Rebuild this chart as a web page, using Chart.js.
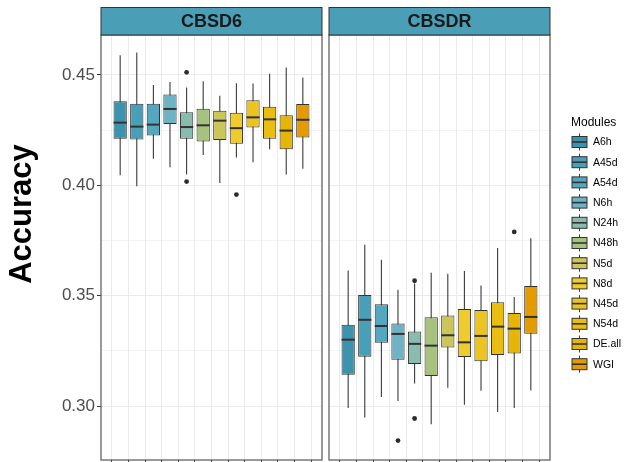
<!DOCTYPE html>
<html>
<head>
<meta charset="utf-8">
<script src="https://cdn.jsdelivr.net/npm/chart.js@4.4.1/dist/chart.umd.min.js"></script>
<style>
  body { margin: 0; background: #fff; }
  #wrap { position: relative; width: 624px; height: 462px; overflow: hidden; }
  #c1 { position: absolute; left: 0; top: 0; }
  #c2 { position: absolute; left: 325px; top: 0; }
</style>
</head>
<body>
<div id="wrap">
  <!-- canvases run 2px past the window so the panels end at the picture's bottom edge -->
  <canvas id="c1" width="326" height="464"></canvas>
  <canvas id="c2" width="299" height="464"></canvas>
</div>
<script>
var modules = ['A6h', 'A45d', 'A54d', 'N6h', 'N24h', 'N48h', 'N5d', 'N8d', 'N45d', 'N54d', 'DE.all', 'WGI'];
var colors = ['#3B93AE', '#48A0B8', '#55A7BF', '#6DB2C5', '#88BCAE', '#A7C27F',
  '#CCC55A', '#EFCB2E', '#ECC421', '#E9BE12', '#E6B505', '#E39B00'];
var yTicks = [0.30, 0.325, 0.35, 0.375, 0.40, 0.425, 0.45];
var yMin = 0.2756, yMax = 0.4681;

// CBSD6 panel
var cbsd6Low = [0.4046, 0.3996, 0.4120, 0.4082, 0.4049, 0.4137, 0.4011, 0.4126, 0.4105, 0.4163, 0.4049, 0.4075];
var cbsd6Q1 = [0.4211, 0.4208, 0.4226, 0.4278, 0.4211, 0.4199, 0.4205, 0.4188, 0.4262, 0.4211, 0.4164, 0.4217];
var cbsd6Med = [0.4284, 0.4266, 0.4275, 0.4346, 0.4264, 0.4272, 0.4293, 0.4259, 0.4308, 0.4299, 0.4248, 0.4297];
var cbsd6Q3 = [0.4381, 0.4370, 0.4370, 0.4412, 0.4331, 0.4347, 0.4338, 0.4329, 0.4386, 0.4356, 0.4318, 0.4368];
var cbsd6High = [0.4589, 0.4602, 0.4455, 0.4468, 0.4443, 0.4471, 0.4406, 0.4462, 0.4461, 0.4505, 0.4534, 0.4488];
var cbsd6OutIdx = [4, 4, 7];
var cbsd6OutVal = [0.4512, 0.4017, 0.3958];

// CBSDR panel
var cbsdrLow = [0.2991, 0.2949, 0.3041, 0.3023, 0.3103, 0.2918, 0.3083, 0.3006, 0.3070, 0.2973, 0.2991, 0.3071];
var cbsdrQ1 = [0.3142, 0.3224, 0.3287, 0.3210, 0.3191, 0.3136, 0.3265, 0.3222, 0.3203, 0.3232, 0.3238, 0.3328];
var cbsdrMed = [0.3301, 0.3391, 0.3363, 0.3327, 0.3282, 0.3274, 0.3321, 0.3289, 0.3318, 0.3360, 0.3351, 0.3404];
var cbsdrQ3 = [0.3369, 0.3503, 0.3462, 0.3374, 0.3338, 0.3403, 0.3410, 0.3440, 0.3435, 0.3470, 0.3422, 0.3544];
var cbsdrHigh = [0.3614, 0.3731, 0.3663, 0.3527, 0.3555, 0.3604, 0.3600, 0.3612, 0.3546, 0.3716, 0.3494, 0.3760];
var cbsdrOutIdx = [3, 4, 4, 10];
var cbsdrOutVal = [0.2844, 0.3568, 0.2944, 0.3789];

var font = '"Liberation Sans", Arial, sans-serif';
Chart.defaults.font.family = font;

function isMajor(v) {
  return Math.round(v * 1000) % 50 === 0;
}

// whiskers under the boxes, medians on top, strip + border around the panel
var boxPlugin = {
  id: 'boxExtras',
  beforeDatasetsDraw: function (chart, args, opts) {
    var ctx = chart.ctx, xs = chart.scales.x, ys = chart.scales.y;
    ctx.save();
    ctx.strokeStyle = '#3a3a3a';
    ctx.lineWidth = 1.1;
    for (var i = 0; i < modules.length; i++) {
      var x = xs.getPixelForValue(i);
      ctx.beginPath();
      ctx.moveTo(x, ys.getPixelForValue(opts.low[i]));
      ctx.lineTo(x, ys.getPixelForValue(opts.high[i]));
      ctx.stroke();
    }
    ctx.restore();
  },
  afterDatasetsDraw: function (chart, args, opts) {
    var ctx = chart.ctx, ys = chart.scales.y;
    var bars = chart.getDatasetMeta(0).data;
    ctx.save();
    ctx.strokeStyle = '#333';
    ctx.lineWidth = 2;
    for (var i = 0; i < bars.length; i++) {
      var y = ys.getPixelForValue(opts.med[i]);
      ctx.beginPath();
      ctx.moveTo(bars[i].x - bars[i].width / 2, y);
      ctx.lineTo(bars[i].x + bars[i].width / 2, y);
      ctx.stroke();
    }
    ctx.restore();
  },
  afterDraw: function (chart, args, opts) {
    var ctx = chart.ctx, a = chart.chartArea;
    ctx.save();
    ctx.strokeStyle = '#555';
    ctx.lineWidth = 1.2;
    ctx.strokeRect(a.left, a.top, a.right - a.left, a.bottom - a.top);
    ctx.fillStyle = '#4A9FB6';
    ctx.fillRect(a.left, 7, a.right - a.left, a.top - 7);
    ctx.strokeStyle = '#333';
    ctx.lineWidth = 1;
    ctx.strokeRect(a.left, 7.5, a.right - a.left, a.top - 7.5);
    ctx.fillStyle = '#1a1a1a';
    ctx.font = 'bold 18px ' + font;
    ctx.textAlign = 'center';
    ctx.textBaseline = 'middle';
    ctx.fillText(opts.facet, (a.left + a.right) / 2, 22);
    if (opts.yTitle) {
      ctx.translate(22, 214);
      ctx.rotate(-Math.PI / 2);
      ctx.fillStyle = '#000';
      ctx.font = 'bold 31px ' + font;
      ctx.fillText(opts.yTitle, 0, 0);
    }
    ctx.restore();
  }
};

// ggplot style legend drawn to the right of the second panel
var legendPlugin = {
  id: 'moduleLegend',
  afterDraw: function (chart) {
    var ctx = chart.ctx, x0 = chart.chartArea.right + 22;
    ctx.save();
    ctx.fillStyle = '#000';
    ctx.font = '12px ' + font;
    ctx.textBaseline = 'alphabetic';
    ctx.fillText('Modules', x0 - 1, 126);
    ctx.font = '10.5px ' + font;
    ctx.textBaseline = 'middle';
    for (var i = 0; i < modules.length; i++) {
      var cy = 142 + i * 20.2;
      ctx.strokeStyle = '#3a3a3a';
      ctx.lineWidth = 1;
      ctx.beginPath();
      ctx.moveTo(x0 + 7.5, cy - 8.5);
      ctx.lineTo(x0 + 7.5, cy + 8.5);
      ctx.stroke();
      ctx.fillStyle = colors[i];
      ctx.fillRect(x0, cy - 5.5, 15, 11);
      ctx.strokeStyle = '#333';
      ctx.strokeRect(x0, cy - 5.5, 15, 11);
      ctx.lineWidth = 1.6;
      ctx.beginPath();
      ctx.moveTo(x0, cy);
      ctx.lineTo(x0 + 15, cy);
      ctx.stroke();
      ctx.fillStyle = '#000';
      ctx.fillText(modules[i], x0 + 21, cy + 0.5);
    }
    ctx.restore();
  }
};

function makePanel(id, facet, low, q1, med, q3, high, outIdx, outVal, first) {
  var plugins = [boxPlugin];
  if (!first) plugins.push(legendPlugin);
  return new Chart(document.getElementById(id), {
    type: 'bar',
    data: {
      datasets: [{
        data: modules.map(function (m, i) { return { x: i, y: [q1[i], q3[i]] }; }),
        backgroundColor: colors,
        borderColor: '#333',
        borderWidth: 1,
        borderSkipped: false,
        barPercentage: 0.8,
        categoryPercentage: 1
      }, {
        type: 'scatter',
        data: outIdx.map(function (k, i) { return { x: k, y: outVal[i] }; }),
        backgroundColor: '#2b2b2b',
        borderWidth: 0,
        pointRadius: 2.4
      }]
    },
    plugins: plugins,
    options: {
      responsive: false,
      animation: false,
      layout: { padding: first ? { top: 35, right: 4 } : { top: 35, right: 74 } },
      plugins: {
        legend: { display: false },
        tooltip: { enabled: false },
        boxExtras: { facet: facet, low: low, med: med, high: high, yTitle: first ? 'Accuracy' : '' }
      },
      scales: {
        x: {
          type: 'linear',
          min: -0.6,
          max: modules.length - 0.4,
          afterBuildTicks: function (s) {
            s.ticks = modules.map(function (m, i) { return { value: i }; });
          },
          afterFit: function (s) { s.height = 2; },
          grid: { color: '#EBEBEB', lineWidth: 1, tickLength: 2, tickColor: '#333' },
          border: { display: false },
          ticks: { display: false }
        },
        y: {
          min: yMin,
          max: yMax,
          afterBuildTicks: function (s) {
            s.ticks = yTicks.map(function (v) { return { value: v }; });
          },
          afterFit: function (s) {
            s.width = first ? 101 : 3;
            s.paddingTop = 0;
            s.paddingBottom = 0;
          },
          grid: {
            color: '#EBEBEB',
            lineWidth: function (c) { return isMajor(c.tick.value) ? 1 : 0.6; },
            drawTicks: first,
            tickLength: 4,
            tickColor: function (c) { return isMajor(c.tick.value) ? '#333' : 'rgba(0,0,0,0)'; }
          },
          border: { display: false },
          ticks: {
            display: first,
            padding: 2,
            color: '#4D4D4D',
            font: { size: 17 },
            callback: function (v) { return isMajor(v) ? v.toFixed(2) : ''; }
          }
        }
      }
    }
  });
}

makePanel('c1', 'CBSD6', cbsd6Low, cbsd6Q1, cbsd6Med, cbsd6Q3, cbsd6High, cbsd6OutIdx, cbsd6OutVal, true);
makePanel('c2', 'CBSDR', cbsdrLow, cbsdrQ1, cbsdrMed, cbsdrQ3, cbsdrHigh, cbsdrOutIdx, cbsdrOutVal, false);
</script>
</body>
</html>
